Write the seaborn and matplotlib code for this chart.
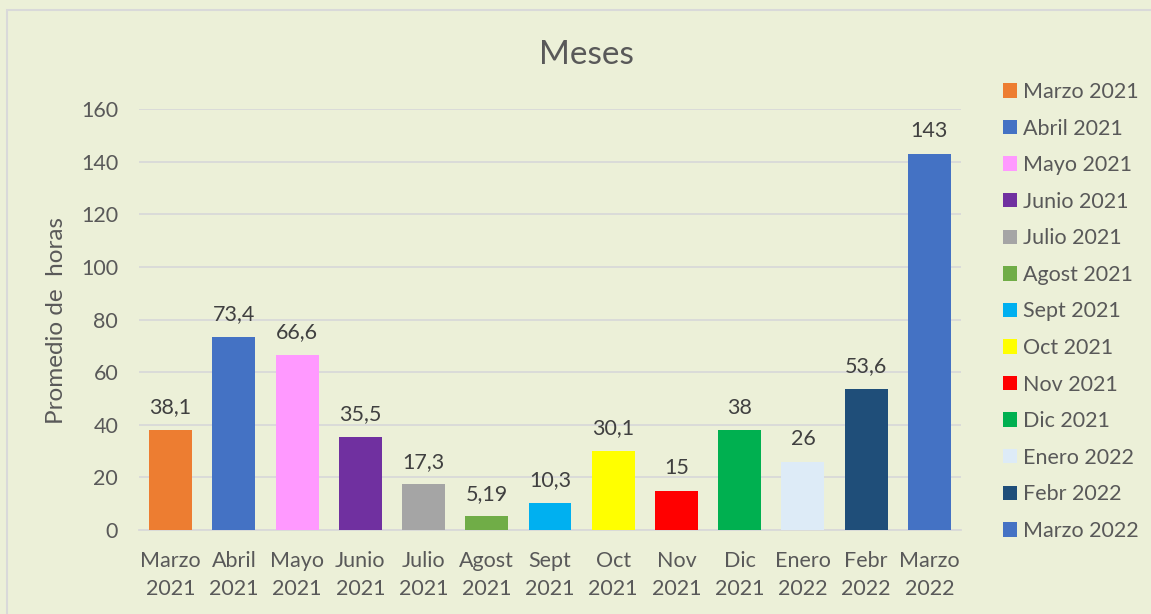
import matplotlib
matplotlib.use("Agg")
import matplotlib.pyplot as plt
import matplotlib.patches as mpatches
import seaborn as sns
import pandas as pd

categories = ["Marzo 2021", "Abril 2021", "Mayo 2021", "Junio 2021", "Julio 2021",
              "Agost 2021", "Sept 2021", "Oct 2021", "Nov 2021", "Dic 2021",
              "Enero 2022", "Febr 2022", "Marzo 2022"]
values = [38.1, 73.4, 66.6, 35.5, 17.3, 5.19, 10.3, 30.1, 15, 38, 26, 53.6, 143]
value_labels = ["38,1", "73,4", "66,6", "35,5", "17,3", "5,19", "10,3", "30,1",
                "15", "38", "26", "53,6", "143"]
colors = ["#ED7D31", "#4472C4", "#FF99FF", "#7030A0", "#A5A5A5", "#70AD47",
          "#00B0F0", "#FFFF00", "#FF0000", "#00B050", "#DDEBF7", "#1F4E79",
          "#4472C4"]
yticks = [0, 20, 40, 60, 80, 100, 120, 140, 160]

bg = "#ECF0D8"
txt = "#595959"
fs = 15.5

sns.set_theme(style="white")
plt.rcParams["font.family"] = ["Lato", "DejaVu Sans"]

fig = plt.figure(figsize=(11.51, 6.14), dpi=100, facecolor=bg)
ax = fig.add_axes([139 / 1151, 1 - 530 / 614, (961 - 139) / 1151, (530 - 109) / 614])
ax.set_facecolor(bg)

df = pd.DataFrame({"cat": categories, "val": values})
sns.barplot(data=df, x="cat", y="val", hue="cat", palette=colors, dodge=False,
            legend=False, width=0.68, saturation=1, linewidth=0, ax=ax, zorder=3)

ax.set_ylim(0, 160)
ax.set_xlim(-0.5, len(categories) - 0.5)
ax.set_yticks(yticks)
ax.set_yticklabels([str(t) for t in yticks], fontsize=fs, color=txt)
ax.yaxis.grid(True, color="#D9D9D9", linewidth=1.3, zorder=0)
ax.set_axisbelow(True)
for s in ["top", "right", "left"]:
    ax.spines[s].set_visible(False)
ax.spines["bottom"].set_color("#D9D9D9")
ax.spines["bottom"].set_linewidth(1.3)
ax.tick_params(axis="y", length=0, pad=15)
ax.tick_params(axis="x", length=0, pad=15)
ax.set_xticks(range(len(categories)))
ax.set_xticklabels([c.replace(" ", "\n") for c in categories], fontsize=fs,
                   color=txt, linespacing=1.5)
ax.set_xlabel("")
ax.set_ylabel("")

for i, (v, lab) in enumerate(zip(values, value_labels)):
    ax.annotate(lab, (i, v), xytext=(0, 9), textcoords="offset points",
                ha="center", va="bottom", fontsize=fs, color="#404040")

fig.text(57 / 1151, 1 - 321 / 614, "Promedio de  horas", rotation=90,
         ha="center", va="center", fontsize=17.5, color=txt)

fig.text(586 / 1151, 1 - 55 / 614, "Meses", ha="center", va="center",
         fontsize=24, color=txt)

handles = [mpatches.Patch(facecolor=c, edgecolor="none") for c in colors]
leg = fig.legend(handles, categories, loc="upper left",
                 bbox_to_anchor=(1003 / 1151, 1 - 82 / 614), frameon=False,
                 fontsize=fs, labelcolor=txt, handlelength=0.65, handleheight=0.65,
                 handletextpad=0.3, labelspacing=0.77, borderpad=0,
                 borderaxespad=0)

frame = mpatches.Rectangle((7 / 1151, -0.1), 1.2, 1 - 10 / 614 + 0.1,
                           transform=fig.transFigure, fill=False,
                           edgecolor="#D9D9D9", linewidth=1.5)
fig.patches.append(frame)

fig.savefig("out.png", dpi=100, facecolor=bg)
